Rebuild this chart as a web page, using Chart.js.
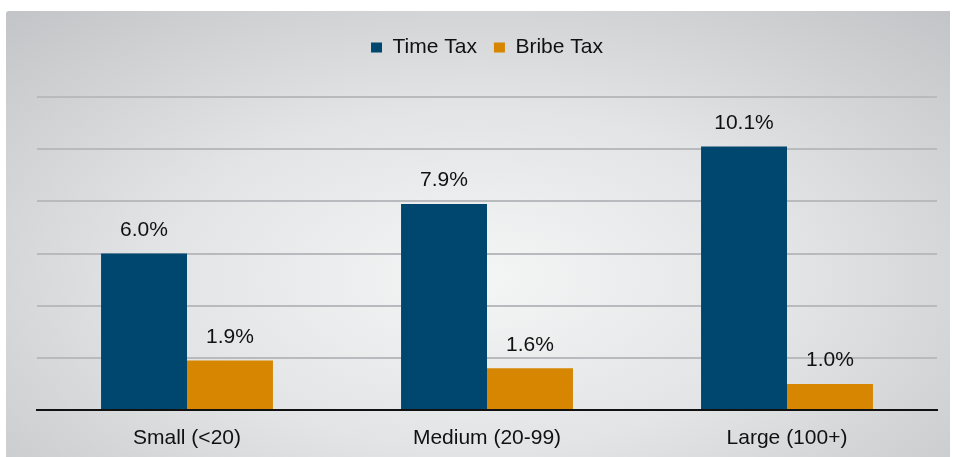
<!DOCTYPE html>
<html>
<head>
<meta charset="utf-8">
<script src="https://cdn.jsdelivr.net/npm/chart.js@4.4.1/dist/chart.umd.min.js"></script>
<style>
  html, body { margin: 0; padding: 0; background: #fff; }
  #wrap {
    position: absolute; left: 6px; top: 11px; width: 944px; height: 446px;
    background: radial-gradient(ellipse 75% 85% at 50% 60%, #f4f5f5 0%, #e3e4e5 45%, #c1c2c5 100%);
    border-top-left-radius: 3px;
  }
</style>
</head>
<body>
<div id="wrap"><canvas id="taxChart" width="944" height="446"></canvas></div>
<script>
/* ===============================
   DATA
================================ */
const categories = ["Small (<20)", "Medium (20-99)", "Large (100+)"];
const timeTax = [6.0, 7.9, 10.1];
const bribeTax = [1.9, 1.6, 1.0];
const seriesNames = ["Time Tax", "Bribe Tax"];

const BLUE = "#00476f";
const ORANGE = "#d68600";
const FONT = "'Liberation Sans', Arial, sans-serif";

/* extra room under the legend */
const legendSpace = {
  id: "legendSpace",
  beforeInit(chart) {
    const origFit = chart.legend.fit;
    chart.legend.fit = function () {
      origFit.bind(chart.legend)();
      this.height += 29;
    };
  },
};

/* value labels above bars */
const barLabels = {
  id: "barLabels",
  afterDatasetsDraw(chart) {
    const ctx = chart.ctx;
    ctx.save();
    ctx.font = "21px " + FONT;
    ctx.fillStyle = "#111";
    ctx.textAlign = "center";
    ctx.textBaseline = "bottom";
    chart.data.datasets.forEach((ds, i) => {
      chart.getDatasetMeta(i).data.forEach((bar, j) => {
        ctx.fillText(ds.data[j].toFixed(1) + "%", bar.x, bar.y - 13);
      });
    });
    ctx.restore();
  },
};

new Chart(document.getElementById("taxChart"), {
  type: "bar",
  data: {
    labels: categories,
    datasets: [
      { label: seriesNames[0], data: timeTax, backgroundColor: BLUE },
      { label: seriesNames[1], data: bribeTax, backgroundColor: ORANGE },
    ],
  },
  options: {
    responsive: false,
    animation: false,
    layout: { padding: { left: 31, right: 13, top: 9, bottom: 0 } },
    datasets: {
      bar: { categoryPercentage: 0.573, barPercentage: 1.0 },
    },
    plugins: {
      legend: {
        position: "top",
        labels: {
          boxWidth: 11,
          boxHeight: 10,
          padding: 17,
          color: "#111",
          font: { family: FONT, size: 21 },
        },
      },
      tooltip: { enabled: false },
    },
    scales: {
      x: {
        grid: { display: false },
        border: { color: "#111", width: 2 },
        ticks: { color: "#111", font: { family: FONT, size: 21 }, padding: 8 },
        afterFit(scale) { scale.height = 47; },
      },
      y: {
        min: 0,
        max: 12,
        ticks: { stepSize: 2, display: false },
        border: { display: false },
        grid: { color: "#b9babe", lineWidth: 2, drawTicks: false },
      },
    },
  },
  plugins: [legendSpace, barLabels],
});
</script>
</body>
</html>
